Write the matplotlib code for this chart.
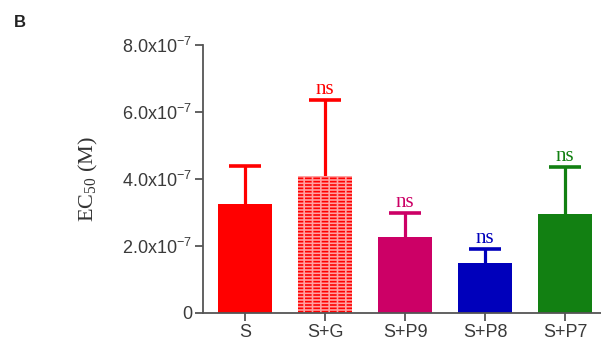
import matplotlib
matplotlib.use("Agg")
import matplotlib.pyplot as plt
import numpy as np

groups = ["S", "S+G", "S+P9", "S+P8", "S+P7"]
ec50 = [3.25e-7, 4.09e-7, 2.27e-7, 1.49e-7, 2.96e-7]
err_top = [4.39e-7, 6.36e-7, 2.99e-7, 1.91e-7, 4.36e-7]
sig = ["", "ns", "ns", "ns", "ns"]
colors = ["#ff0000", "#ff0000", "#cc0066", "#0000bb", "#128012"]
yticks = [0, 2e-7, 4e-7, 6e-7, 8e-7]
ytick_labels = ["0", r"2.0x10$\mathregular{^{-7}}$", r"4.0x10$\mathregular{^{-7}}$",
                r"6.0x10$\mathregular{^{-7}}$", r"8.0x10$\mathregular{^{-7}}$"]

plt.rcParams["hatch.linewidth"] = 1.2
sans = "Liberation Sans"
serif = "Liberation Serif"

fig = plt.figure(figsize=(6.01, 3.42), dpi=100)
ax = fig.add_axes([0.338, 0.085, 0.662, 0.783])

x = np.arange(len(groups))
w = 0.67
for i in range(len(groups)):
    if groups[i] == "S+G":
        # brick-like fill: red rows broken up by light vertical strokes
        ax.bar(x[i], ec50[i], width=w, color="#ffa0a0", edgecolor=colors[i],
               hatch="-----", linewidth=0, zorder=2)
        ax.bar(x[i], ec50[i], width=w, color="none", edgecolor="#ffa0a0",
               hatch="||", linewidth=0, zorder=2)
    else:
        ax.bar(x[i], ec50[i], width=w, color=colors[i], linewidth=0, zorder=2)
    ax.vlines(x[i], ec50[i], err_top[i], color=colors[i], lw=2.3, zorder=1)
    ax.hlines(err_top[i], x[i] - 0.2, x[i] + 0.2, color=colors[i], lw=2.6, zorder=1)
    if sig[i]:
        ax.text(x[i], err_top[i] + 0.03e-7, sig[i], ha="center", va="bottom",
                color=colors[i], fontsize=15, family=serif)

ax.set_xlim(-0.525, 4.45)
ax.set_ylim(0, 8e-7)
ax.set_yticks(yticks)
ax.set_yticklabels(ytick_labels)
ax.set_xticks(x)
ax.set_xticklabels(groups)
for lab in ax.get_xticklabels() + ax.get_yticklabels():
    lab.set_family(sans)
    lab.set_fontsize(13)
    lab.set_color("#3a3a3a")
ax.tick_params(axis="both", direction="out", length=6, width=1.3, color="#555555", pad=2)
for s in ["top", "right"]:
    ax.spines[s].set_visible(False)
for s in ["left", "bottom"]:
    ax.spines[s].set_color("#555555")
    ax.spines[s].set_linewidth(1.3)

ax.set_ylabel(r"EC$\mathregular{_{50}}$ (M)", family=serif, fontsize=16,
              color="#333333", labelpad=16)
fig.text(0.033, 0.935, "B", family=sans, fontsize=12, fontweight="bold",
         color="#222222", ha="center", va="center")

fig.savefig("out.png", dpi=100)
